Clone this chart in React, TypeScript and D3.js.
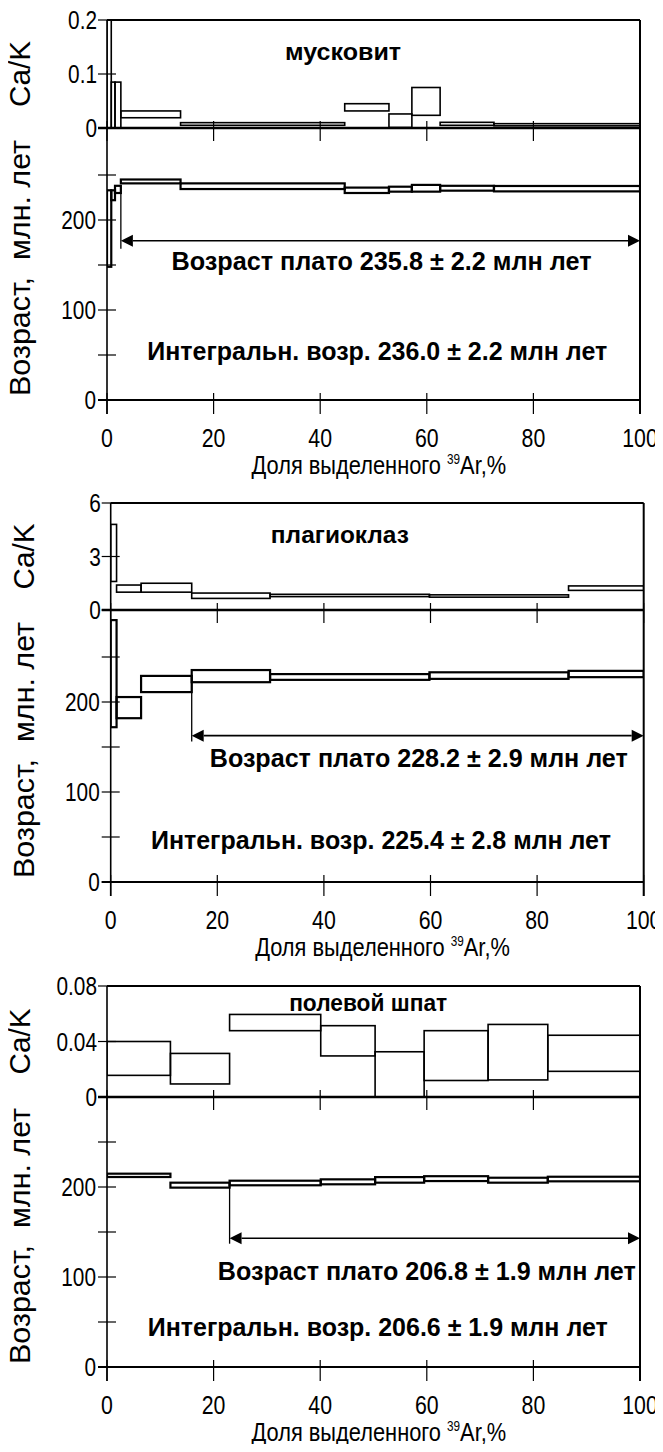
import React from 'react';
import * as d3 from 'd3';

const W = 663;
const H = 1452;
const FONT = '"Liberation Sans", Arial, Helvetica, sans-serif';

const xTicks = [0, 20, 40, 60, 80, 100];
const ageTicks = [0, 50, 100, 150, 200, 250];
const ageTickLabels = [0, 100, 200];

// ---- muscovite ----
const muscBounds = [0, 0.8, 1.5, 2.6, 13.8, 44.6, 52.9, 57.2, 62.5, 72.6, 100];
const muscCakLow = [0, 0, 0, 0.019, 0.005, 0.0316, 0.001, 0.0235, 0.005, 0.004];
const muscCakHigh = [0.3, 0.085, 0.085, 0.0316, 0.0099, 0.045, 0.026, 0.075, 0.0105, 0.008];
const muscAgeLow = [148, 222, 230, 240.7, 234.4, 230, 231.5, 231.5, 232.6, 231.8];
const muscAgeHigh = [233, 233, 238, 245, 240.7, 236, 237, 239, 238, 237.8];
const muscCakTicks = [0, 0.1, 0.2];
const muscCakLabels = ['0', '0.1', '0.2'];

// ---- plagioclase ----
const plagBounds = [0, 1.1, 5.7, 15.2, 29.9, 59.8, 85.9, 100];
const plagCakLow = [1.6, 1.0, 1.0, 0.65, 0.75, 0.72, 1.1];
const plagCakHigh = [4.8, 1.4, 1.5, 0.95, 0.88, 0.85, 1.35];
const plagAgeLow = [172, 182, 211, 222, 224.6, 225.7, 227.6];
const plagAgeHigh = [291, 205.5, 229, 235.5, 231, 233, 234.6];
const plagCakTicks = [0, 3, 6];
const plagCakLabels = ['0', '3', '6'];

// ---- feldspar ----
const feldBounds = [0, 11.9, 23.0, 40.1, 50.3, 59.5, 71.5, 82.7, 100];
const feldCakLow = [0.0156, 0.0094, 0.0478, 0.0296, 0, 0.0119, 0.0123, 0.0185];
const feldCakHigh = [0.040, 0.0314, 0.0595, 0.0514, 0.0326, 0.0478, 0.0523, 0.0445];
const feldAgeLow = [211.1, 199.3, 201.9, 203, 204.8, 206.6, 204.8, 206.3];
const feldAgeHigh = [214.8, 204.8, 207, 208.5, 211, 212, 210.3, 211.4];
const feldCakTicks = [0, 0.04, 0.08];
const feldCakLabels = ['0', '0.04', '0.08'];

const minerals = ['мусковит', 'плагиоклаз', 'полевой шпат'];
const plateauTexts = [
  'Возраст плато 235.8 ± 2.2 млн лет',
  'Возраст плато 228.2 ± 2.9 млн лет',
  'Возраст плато 206.8 ± 1.9 млн лет',
];
const integralTexts = [
  'Интегральн. возр. 236.0 ± 2.2 млн лет',
  'Интегральн. возр. 225.4 ± 2.8 млн лет',
  'Интегральн. возр. 206.6 ± 1.9 млн лет',
];
// plateau: start %, arrow age, bottom of the vertical line (age)
const plateauStart = [2.6, 15.2, 23.0];
const plateauArrowAge = [177, 162.6, 143];
const plateauLineEnd = [168, 156, 137];
const plateauStartLow = [230, 222, 201.9];

type Cfg = {
  id: string;
  left: number;
  cakTop: number;
  cakBot: number;
  ageBot: number;
  cakMax: number;
  bounds: number[];
  cakLow: number[];
  cakHigh: number[];
  ageLow: number[];
  ageHigh: number[];
  cakTicks: number[];
  cakLabels: string[];
  mineral: string;
  mineralX: number;
  mineralFrac: number;
  mineralW: number;
  plateau: string;
  plateauX: number;
  plateauY: number;
  plateauW: number;
  integral: string;
  integralX: number;
  integralY: number;
  integralW: number;
  pStart: number;
  pArrow: number;
  pLineEnd: number;
  pLow: number;
};

const panels: Cfg[] = [
  {
    id: 'p1', left: 107, cakTop: 20, cakBot: 128, ageBot: 400, cakMax: 0.2,
    bounds: muscBounds, cakLow: muscCakLow, cakHigh: muscCakHigh, ageLow: muscAgeLow, ageHigh: muscAgeHigh,
    cakTicks: muscCakTicks, cakLabels: muscCakLabels, mineral: minerals[0], mineralX: 44.3, mineralFrac: 0.7, mineralW: 116,
    plateau: plateauTexts[0], plateauX: 51.5, plateauY: 155, plateauW: 420,
    integral: integralTexts[0], integralX: 50.7, integralY: 54, integralW: 460,
    pStart: plateauStart[0], pArrow: plateauArrowAge[0], pLineEnd: plateauLineEnd[0], pLow: plateauStartLow[0],
  },
  {
    id: 'p2', left: 110.7, cakTop: 503, cakBot: 610, ageBot: 882, cakMax: 6,
    bounds: plagBounds, cakLow: plagCakLow, cakHigh: plagCakHigh, ageLow: plagAgeLow, ageHigh: plagAgeHigh,
    cakTicks: plagCakTicks, cakLabels: plagCakLabels, mineral: minerals[1], mineralX: 43, mineralFrac: 0.7, mineralW: 138,
    plateau: plateauTexts[1], plateauX: 57.8, plateauY: 138, plateauW: 418,
    integral: integralTexts[1], integralX: 50.7, integralY: 47, integralW: 460,
    pStart: plateauStart[1], pArrow: plateauArrowAge[1], pLineEnd: plateauLineEnd[1], pLow: plateauStartLow[1],
  },
  {
    id: 'p3', left: 107, cakTop: 986, cakBot: 1097, ageBot: 1367, cakMax: 0.08,
    bounds: feldBounds, cakLow: feldCakLow, cakHigh: feldCakHigh, ageLow: feldAgeLow, ageHigh: feldAgeHigh,
    cakTicks: feldCakTicks, cakLabels: feldCakLabels, mineral: minerals[2], mineralX: 49, mineralFrac: 0.85, mineralW: 158,
    plateau: plateauTexts[2], plateauX: 60, plateauY: 107, plateauW: 418,
    integral: integralTexts[2], integralX: 50.8, integralY: 44, integralW: 460,
    pStart: plateauStart[2], pArrow: plateauArrowAge[2], pLineEnd: plateauLineEnd[2], pLow: plateauStartLow[2],
  },
];

// condensed text helper (the original uses a narrow typeface)
function T({ x, y, size, sx = 0.84, anchor = 'middle', bold = false, rot = 0, children }:
  { x: number; y: number; size: number; sx?: number; anchor?: string; bold?: boolean; rot?: number; children: any }) {
  return (
    <text transform={`translate(${x},${y}) rotate(${rot}) scale(${sx},1)`} textAnchor={anchor}
      fontSize={size} fontWeight={bold ? 'bold' : 'normal'} fontFamily={FONT} xmlSpace="preserve">
      {children}
    </text>
  );
}

function Panel({ c }: { c: Cfg }) {
  const right = c.left + 533;
  const x = d3.scaleLinear().domain([0, 100]).range([c.left, right]);
  const age = d3.scaleLinear().domain([0, 300]).range([c.ageBot, c.ageBot - 270]);
  const cak = d3.scaleLinear().domain([0, c.cakMax]).range([c.cakBot, c.cakTop]);
  const steps = d3.range(c.bounds.length - 1);
  const ay = age(c.pArrow);
  const ax0 = x(c.pStart);
  const ax1 = x(100);
  const ah = 12;
  const aw = 6;
  return (
    <g>
      <defs>
        <clipPath id={`${c.id}-cak`}>
          <rect x={c.left} y={c.cakTop} width={right - c.left} height={c.cakBot - c.cakTop} />
        </clipPath>
        <clipPath id={`${c.id}-age`}>
          <rect x={c.left} y={c.cakBot} width={right - c.left} height={c.ageBot - c.cakBot} />
        </clipPath>
      </defs>
      {/* Ca/K steps */}
      <g clipPath={`url(#${c.id}-cak)`}>
        {steps.map((i) => (
          <rect key={i} x={x(c.bounds[i])} y={cak(c.cakHigh[i])} width={x(c.bounds[i + 1]) - x(c.bounds[i])}
            height={cak(c.cakLow[i]) - cak(c.cakHigh[i])} fill="none" stroke="#000" strokeWidth={1.6} />
        ))}
      </g>
      {/* age steps */}
      <g clipPath={`url(#${c.id}-age)`}>
        {steps.map((i) => (
          <rect key={i} x={x(c.bounds[i])} y={age(c.ageHigh[i])} width={x(c.bounds[i + 1]) - x(c.bounds[i])}
            height={age(c.ageLow[i]) - age(c.ageHigh[i])} fill="none" stroke="#000" strokeWidth={2.2} />
        ))}
      </g>
      {/* frame */}
      <line x1={c.left} x2={c.left} y1={c.cakTop} y2={c.ageBot + 14} stroke="#000" strokeWidth={1.6} />
      <line x1={right} x2={right} y1={c.cakTop} y2={c.ageBot + 14} stroke="#000" strokeWidth={2} />
      <line x1={c.left} x2={right} y1={c.cakTop} y2={c.cakTop} stroke="#000" strokeWidth={2} />
      <line x1={c.left - 9} x2={right} y1={c.cakBot} y2={c.cakBot} stroke="#000" strokeWidth={2.4} />
      <line x1={c.left - 9} x2={right} y1={c.ageBot} y2={c.ageBot} stroke="#000" strokeWidth={2.2} />
      {/* x ticks */}
      {xTicks.map((t) => (
        <g key={t}>
          <line x1={x(t)} x2={x(t)} y1={c.cakBot - 7} y2={c.cakBot + 13} stroke="#000" strokeWidth={1.2} />
          <line x1={x(t)} x2={x(t)} y1={c.ageBot - 7} y2={c.ageBot + 14} stroke="#000" strokeWidth={1.2} />
          <T x={x(t)} y={c.ageBot + 47} size={26} sx={0.82}>{t}</T>
        </g>
      ))}
      {/* Ca/K ticks */}
      {c.cakTicks.map((t, i) => (
        <g key={t}>
          <line x1={c.left - 9} x2={c.left + 9} y1={cak(t)} y2={cak(t)} stroke="#000" strokeWidth={1.2} />
          <T x={c.left - 10} y={cak(t) + 9} size={26} sx={0.8} anchor="end">{c.cakLabels[i]}</T>
        </g>
      ))}
      {/* age ticks */}
      {ageTicks.map((t) => (
        <line key={t} x1={c.left - 9} x2={c.left + 9} y1={age(t)} y2={age(t)} stroke="#000" strokeWidth={1.2} />
      ))}
      {ageTickLabels.map((t) => (
        <T key={t} x={c.left - 11} y={age(t) + 9} size={26} sx={0.8} anchor="end">{t}</T>
      ))}
      {/* axis titles */}
      <text transform={`translate(${c.left - 77},${(c.cakTop + c.cakBot) / 2}) rotate(-90)`} textAnchor="middle"
        fontSize={29} fontFamily={FONT} textLength={66} lengthAdjust="spacingAndGlyphs">Ca/K</text>
      <text transform={`translate(${c.left - 77},${(c.cakBot + c.ageBot) / 2 + 4}) rotate(-90)`} textAnchor="middle"
        fontSize={29} fontFamily={FONT} xmlSpace="preserve" textLength={256} lengthAdjust="spacingAndGlyphs">Возраст,  млн. лет</text>
      <T x={x(51)} y={c.ageBot + 74} size={26} sx={0.84}>
        Доля выделенного <tspan fontSize={14} dy={-10}>39</tspan><tspan dy={10}>Ar,%</tspan>
      </T>
      {/* mineral name */}
      <text x={x(c.mineralX)} y={c.cakBot - (c.cakBot - c.cakTop) * c.mineralFrac + 8} textAnchor="middle"
        fontSize={24} fontWeight="bold" fontFamily={FONT} textLength={c.mineralW} lengthAdjust="spacingAndGlyphs">
        {c.mineral}
      </text>
      {/* plateau */}
      <line x1={ax0} x2={ax0} y1={age(c.pLow)} y2={age(c.pLineEnd)} stroke="#000" strokeWidth={1.3} />
      <line x1={ax0 + ah} x2={ax1 - ah} y1={ay} y2={ay} stroke="#000" strokeWidth={1.6} />
      <path d={`M${ax0},${ay} L${ax0 + ah},${ay - aw} L${ax0 + ah},${ay + aw} Z`} fill="#000" />
      <path d={`M${ax1},${ay} L${ax1 - ah},${ay - aw} L${ax1 - ah},${ay + aw} Z`} fill="#000" />
      <text x={x(c.plateauX)} y={age(c.plateauY) + 9} textAnchor="middle" fontSize={25} fontWeight="bold"
        fontFamily={FONT} textLength={c.plateauW} lengthAdjust="spacingAndGlyphs">{c.plateau}</text>
      <text x={x(c.integralX)} y={age(c.integralY) + 9} textAnchor="middle" fontSize={25} fontWeight="bold"
        fontFamily={FONT} textLength={c.integralW} lengthAdjust="spacingAndGlyphs">{c.integral}</text>
    </g>
  );
}

export default function App() {
  return (
    <svg width={W} height={H} viewBox={`0 0 ${W} ${H}`} style={{ display: 'block', margin: '-8px', background: '#fff' }}>
      <rect x={0} y={0} width={W} height={H} fill="#fff" />
      {panels.map((c) => (
        <Panel key={c.id} c={c} />
      ))}
    </svg>
  );
}
